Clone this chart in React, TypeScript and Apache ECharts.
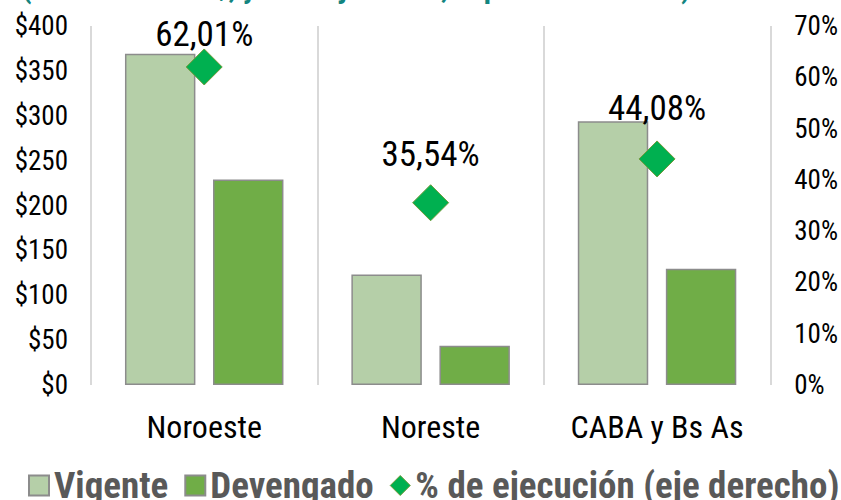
import React, { useEffect, useRef } from "react";
import * as echarts from "echarts";

const categories = ["Noroeste", "Noreste", "CABA y Bs As"];
const vigente = [369, 123, 294];
const devengado = [229, 43.7, 129.6];
const ejecucion = [62.01, 35.54, 44.08];
const ejecucionLabels = ["62,01%", "35,54%", "44,08%"];
const labelOffsets = [-32, -48, -50];
const leftTicks = { min: 0, max: 400, interval: 50 };
const rightTicks = { min: 0, max: 70, interval: 10 };
const titleText = "(en millones de $, y % de ejecución, al primer semestre)";

const FONT = "'Roboto Condensed', 'Open Sans', sans-serif";

export default function App() {
  const ref = useRef<HTMLDivElement>(null);
  useEffect(() => {
    if (!ref.current) return;
    const chart = echarts.init(ref.current, undefined, { renderer: "svg" });
    chart.setOption({
      animation: false,
      textStyle: { fontFamily: FONT },
      graphic: [
        {
          type: "text",
          x: 22,
          y: 2,
          style: {
            text: titleText,
            fontFamily: FONT,
            fontSize: 30,
            fontWeight: "bold",
            fill: "#13857F",
            verticalAlign: "bottom",
          },
        },
      ],
      grid: { left: 91, right: 67, top: 26, bottom: 115 },
      legend: {
        left: 28,
        top: 467,
        padding: 0,
        itemWidth: 20,
        itemHeight: 20,
        itemGap: 16,
        textStyle: { fontFamily: FONT, fontSize: 37, fontWeight: "bold", color: "#595959" },
        data: [
          { name: "Vigente", icon: "rect" },
          { name: "Devengado", icon: "rect" },
          { name: "% de ejecución (eje derecho)", icon: "diamond", itemStyle: { color: "#00B050", borderColor: "#6E9B3A", borderWidth: 1 } },
        ],
      },
      xAxis: {
        type: "category",
        data: categories,
        axisLine: { show: false },
        axisTick: { show: false },
        axisLabel: { fontFamily: FONT, fontSize: 32, color: "#000", margin: 26, interval: 0 },
        splitLine: { show: true, interval: 0, lineStyle: { color: "#D9D9D9", width: 2 } },
      },
      yAxis: [
        {
          type: "value",
          min: leftTicks.min,
          max: leftTicks.max,
          interval: leftTicks.interval,
          axisLine: { show: false },
          axisTick: { show: false },
          splitLine: { show: false },
          axisLabel: { fontFamily: FONT, fontSize: 27, color: "#000", margin: 23, formatter: (v: number) => "$" + v },
        },
        {
          type: "value",
          min: rightTicks.min,
          max: rightTicks.max,
          interval: rightTicks.interval,
          axisLine: { show: false },
          axisTick: { show: false },
          splitLine: { show: false },
          axisLabel: { fontFamily: FONT, fontSize: 27, color: "#000", margin: 24, formatter: (v: number) => v + "%" },
        },
      ],
      series: [
        {
          name: "Vigente",
          type: "bar",
          data: vigente,
          barGap: "25%",
          barCategoryGap: "30%",
          itemStyle: { color: "#B5CFA8", borderColor: "#8C8C8C", borderWidth: 1.5 },
        },
        {
          name: "Devengado",
          type: "bar",
          data: devengado,
          itemStyle: { color: "#70AD47", borderColor: "#8C8C8C", borderWidth: 1.5 },
        },
        {
          name: "% de ejecución (eje derecho)",
          type: "line",
          yAxisIndex: 1,
          data: ejecucion.map((v, i) => ({
            value: v,
            label: {
              show: true,
              position: "inside",
              offset: [0, labelOffsets[i]],
              formatter: ejecucionLabels[i],
              fontFamily: FONT,
              fontSize: 35,
              color: "#000",
            },
          })),
          symbol: "diamond",
          symbolSize: 36,
          lineStyle: { opacity: 0 },
          itemStyle: { color: "#00B050", borderColor: "#6E9B3A", borderWidth: 1 },
          z: 5,
        },
      ],
    });
    return () => chart.dispose();
  }, []);
  return <div ref={ref} style={{ width: 841, height: 500, position: "absolute", left: 0, top: 0 }} />;
}
